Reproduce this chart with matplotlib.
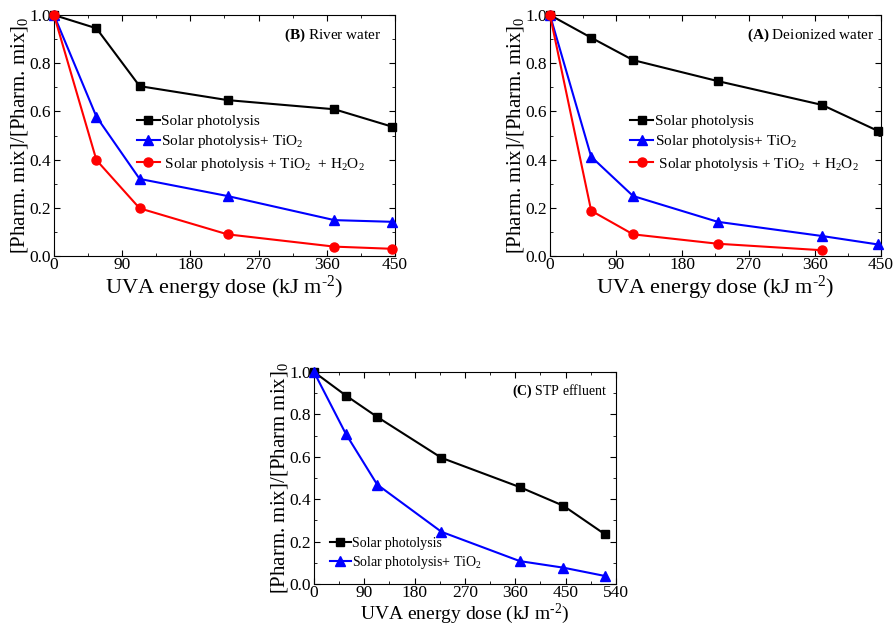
import numpy as np
import matplotlib
matplotlib.use("Agg")
import matplotlib.pyplot as plt
from matplotlib.ticker import MultipleLocator

plt.rcParams['font.family'] = ['Liberation Serif', 'DejaVu Serif']
plt.rcParams['mathtext.fontset'] = 'custom'
plt.rcParams['mathtext.rm'] = 'Liberation Serif'
plt.rcParams['mathtext.it'] = 'Liberation Serif:italic'
plt.rcParams['mathtext.bf'] = 'Liberation Serif:bold'

# (B) River water
river_x = [0, 56, 113, 229, 370, 446]
river_solar = [1.0, 0.945, 0.705, 0.647, 0.609, 0.537]
river_tio2 = [1.0, 0.578, 0.32, 0.249, 0.149, 0.142]
river_h2o2 = [1.0, 0.398, 0.198, 0.09, 0.039, 0.03]

# (A) Deionized water
deion_x = [0, 56, 113, 228, 370, 446]
deion_solar = [1.0, 0.906, 0.813, 0.726, 0.627, 0.519]
deion_tio2 = [1.0, 0.412, 0.249, 0.142, 0.083, 0.048]
deion_h2o2_x = [0, 56, 113, 228, 370]
deion_h2o2 = [1.0, 0.188, 0.09, 0.051, 0.024]

# (C) STP effluent
stp_x = [0, 57, 113, 228, 368, 446, 520]
stp_solar = [1.0, 0.889, 0.788, 0.595, 0.457, 0.369, 0.235]
stp_tio2 = [1.0, 0.708, 0.469, 0.246, 0.108, 0.077, 0.038]

lab_solar = "Solar photolysis"
lab_tio2 = "Solar photolysis+ TiO$_2$"
lab_h2o2 = " Solar photolysis + TiO$_2$  + H$_2$O$_2$"
xlab = r"UVA energy dose (kJ m$^{\text{-2}}$)"

fig = plt.figure(figsize=(8.94, 6.24), dpi=100)
axB = fig.add_axes([0.0604, 0.5897, 0.3814, 0.3862])
axA = fig.add_axes([0.6152, 0.5897, 0.3702, 0.3862])
axC = fig.add_axes([0.3512, 0.0641, 0.3378, 0.3398])


def style(ax, xmax, ylab, xsize):
    ax.set_xlim(0, xmax)
    ax.set_ylim(0, 1.0)
    ax.xaxis.set_major_locator(MultipleLocator(90))
    ax.xaxis.set_minor_locator(MultipleLocator(45))
    ax.yaxis.set_major_locator(MultipleLocator(0.2))
    ax.yaxis.set_minor_locator(MultipleLocator(0.1))
    ax.yaxis.set_major_formatter(plt.FormatStrFormatter('%.1f'))
    ax.tick_params(which='both', direction='in', top=True, right=True,
                   labelsize=12.5)
    ax.tick_params(axis='x', pad=1)
    ax.tick_params(axis='y', pad=2)
    ax.tick_params(which='major', length=4)
    ax.tick_params(which='minor', length=2)
    ax.set_xlabel(xlab, fontsize=xsize, labelpad=0)
    ax.set_ylabel(ylab, fontsize=15, labelpad=0)
    for s in ax.spines.values():
        s.set_linewidth(0.8)


def curve(ax, x, y, color, marker, label, ms):
    ax.plot(x, y, color=color, marker=marker, markersize=ms, linewidth=1.5,
            label=label, clip_on=False, zorder=3)


# panel B
curve(axB, river_x, river_solar, 'black', 's', lab_solar, 6)
curve(axB, river_x, river_tio2, 'blue', '^', lab_tio2, 7)
curve(axB, river_x, river_h2o2, 'red', 'o', lab_h2o2, 6.5)
style(axB, 450, "[Pharm. mix]/[Pharm. mix]$_0$", 16)
axB.text(0.96, 0.95, r"$\bf{(B)}$ River water", transform=axB.transAxes,
         ha='right', va='top', fontsize=11)
axB.legend(loc='upper left', bbox_to_anchor=(0.22, 0.62), frameon=False,
           fontsize=11, handlelength=1.5, handletextpad=0.1, labelspacing=0.35,
           borderpad=0)

# panel A
curve(axA, deion_x, deion_solar, 'black', 's', lab_solar, 6)
curve(axA, deion_x, deion_tio2, 'blue', '^', lab_tio2, 7)
curve(axA, deion_h2o2_x, deion_h2o2, 'red', 'o', lab_h2o2, 6.5)
style(axA, 450, "[Pharm. mix]/[Pharm. mix]$_0$", 16)
axA.text(0.98, 0.95, r"$\bf{(A)}$ Deionized water", transform=axA.transAxes,
         ha='right', va='top', fontsize=11)
axA.legend(loc='upper left', bbox_to_anchor=(0.22, 0.62), frameon=False,
           fontsize=11, handlelength=1.5, handletextpad=0.1, labelspacing=0.35,
           borderpad=0)

# panel C
curve(axC, stp_x, stp_solar, 'black', 's', lab_solar, 6)
curve(axC, stp_x, stp_tio2, 'blue', '^', lab_tio2, 7)
style(axC, 540, "[Pharm. mix]/[Pharm mix]$_0$", 14)
axC.text(0.97, 0.95, r"$\bf{(C)}$ STP effluent", transform=axC.transAxes,
         ha='right', va='top', fontsize=10)
axC.legend(loc='lower left', bbox_to_anchor=(0.03, 0.03), frameon=False,
           fontsize=10, handlelength=1.5, handletextpad=0.1, labelspacing=0.3,
           borderpad=0)

fig.savefig("out.png", dpi=100)
